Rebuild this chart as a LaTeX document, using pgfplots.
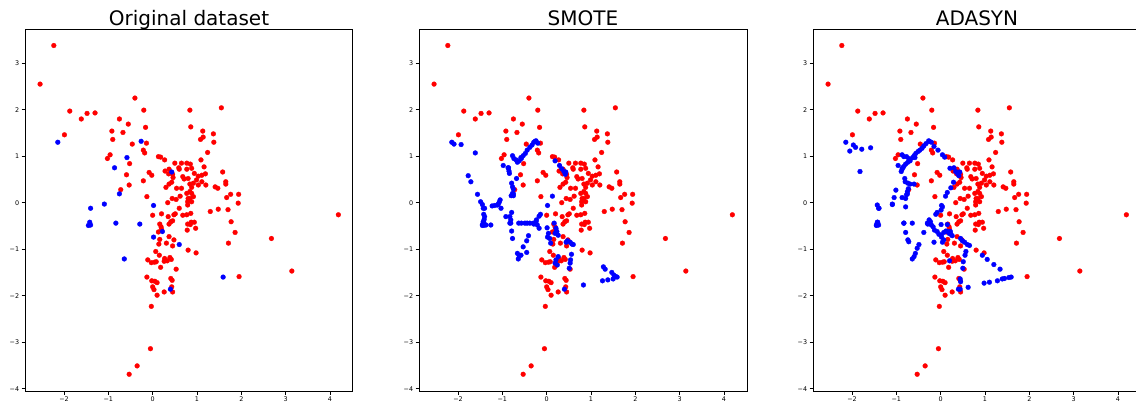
\documentclass[border=0pt]{standalone}
\usepackage{fontspec}
\setmainfont{DejaVu Sans}
\usepackage{pgfplots}
\pgfplotsset{compat=1.18}
\usepackage{pgfplotstable}

% majority class (same in all three panels)
\pgfplotstableread{
x y
-2.23 3.38
-2.54 2.55
-1.87 1.97
-1.61 1.80
-1.48 1.92
-1.30 1.93
-1.99 1.46
-0.40 2.25
-0.20 1.99
-0.75 1.80
-0.55 1.69
-0.92 1.54
-0.67 1.51
-0.16 1.62
-0.90 1.36
-0.46 1.26
-0.14 1.28
-0.21 1.13
-0.18 1.07
-0.96 1.03
-1.02 0.95
-0.52 0.84
0.13 0.99
0.18 0.98
0.27 0.92
-0.59 0.60
-0.08 0.65
-0.02 0.59
-0.21 0.47
-0.53 0.38
-0.72 0.28
-0.13 0.13
0.84 1.99
1.55 2.04
0.86 1.63
1.13 1.54
1.37 1.48
1.08 1.36
1.14 1.41
1.38 1.30
1.24 1.08
1.09 0.92
0.85 0.83
1.58 0.66
1.16 0.77
1.19 0.62
1.11 0.59
1.65 0.45
1.65 0.40
1.41 0.34
1.47 0.31
1.76 0.18
1.94 0.18
1.67 0.11
1.93 -0.01
1.48 -0.14
1.70 -0.15
1.30 -0.19
4.19 -0.26
2.68 -0.77
3.14 -1.47
1.95 -1.59
1.71 -0.87
1.86 -0.64
1.77 -0.41
0.80 -1.02
0.98 -1.08
0.78 -0.59
0.97 -0.55
0.94 -0.42
0.87 -0.42
0.85 -0.47
0.86 -0.23
0.77 -0.26
0.68 -0.27
0.79 -0.05
0.79 0.02
0.88 0.02
0.50 0.85
0.65 0.85
0.59 0.75
0.37 0.72
0.28 0.68
0.36 0.62
0.45 0.61
0.60 0.72
0.77 0.72
0.68 0.56
0.71 0.51
0.46 0.54
0.43 0.44
0.54 0.31
0.65 0.31
0.30 0.33
0.37 0.40
0.44 0.09
0.53 0.07
0.62 0.14
0.60 -0.12
0.77 0.20
0.80 0.09
0.51 -0.24
0.88 0.74
0.94 0.63
1.03 0.57
0.99 0.49
0.80 0.52
0.84 0.40
0.92 0.42
1.03 0.38
1.11 0.45
1.20 0.38
0.88 0.33
0.84 0.24
0.88 0.20
0.84 0.09
0.92 0.13
0.00 -0.27
0.20 -0.24
0.48 -0.26
0.79 -0.46
0.16 -0.46
0.19 -0.52
0.20 -0.57
0.13 -0.63
0.37 -0.46
0.41 -0.41
0.45 -0.39
0.35 -0.30
0.37 -0.73
0.48 -0.80
0.14 -0.89
0.31 -0.87
0.45 -0.93
0.07 -1.05
0.15 -1.13
-0.11 -1.23
-0.03 -1.29
0.04 -1.28
0.08 -1.27
0.27 -1.20
0.26 -1.26
0.33 -1.25
0.39 -1.18
0.42 -1.22
0.18 -1.39
0.53 -1.43
-0.13 -1.60
-0.02 -1.68
0.05 -1.69
0.10 -1.72
0.00 -1.81
0.03 -1.87
0.10 -1.99
0.26 -1.92
0.41 -1.63
0.44 -1.67
0.43 -1.81
0.45 -1.92
-0.03 -2.23
-0.05 -3.14
-0.35 -3.51
-0.53 -3.69
0.16 -0.79
0.34 0.00
0.77 0.85
}\redpts

% minority class, original
\pgfplotstableread{
x y
-2.14 1.30
-0.26 1.32
-0.58 0.97
-0.86 0.75
-0.75 0.19
0.43 0.66
-1.40 -0.12
-1.09 -0.03
0.02 -0.06
-1.42 -0.42
-1.45 -0.49
-1.40 -0.48
-0.83 -0.44
-0.29 -0.46
0.02 -0.74
0.22 -0.62
-0.64 -1.21
0.60 -0.90
0.40 -1.86
1.59 -1.60
}\bluepts

% minority class after SMOTE
\pgfplotstableread{
x y
-2.09 1.26
-1.93 1.25
-1.61 1.07
-1.77 0.58
-1.71 0.45
-1.56 0.18
-1.49 0.02
-1.45 -0.04
-1.43 -0.12
-1.42 -0.25
-1.40 -0.30
-1.41 -0.36
-1.43 -0.41
-1.45 -0.47
-1.42 -0.48
-1.37 -0.48
-1.26 -0.48
-1.23 -0.07
-1.17 -0.06
-1.11 -0.05
-1.07 0.01
-1.05 0.06
-1.03 -0.12
-0.98 0.80
-0.87 0.75
-0.85 0.68
-0.84 0.63
-0.77 1.01
-0.74 0.95
-0.69 0.92
-0.66 0.87
-0.62 0.90
-0.57 0.95
-0.53 1.01
-0.48 1.06
-0.44 1.13
-0.38 1.19
-0.33 1.24
-0.29 1.30
-0.24 1.33
-0.20 1.28
-0.79 0.42
-0.77 0.34
-0.75 0.29
-0.77 0.20
-0.80 0.15
-0.75 0.15
-0.68 0.52
-0.92 -0.30
-0.83 -0.30
-0.81 -0.37
-0.81 -0.44
-0.79 -0.21
-0.63 -0.44
-0.57 -0.44
-0.49 -0.44
-0.44 -0.44
-0.38 -0.44
-0.30 -0.44
-0.24 -0.41
-0.21 -0.48
-0.17 -0.55
-0.23 -0.37
-0.17 -0.29
-0.14 -0.25
-0.79 -0.61
-0.41 -0.71
-0.45 -0.82
-0.53 -0.95
-0.77 -0.77
-0.66 -1.09
-0.62 -1.14
-0.58 -1.13
-0.45 -1.07
0.13 0.14
0.01 -0.54
0.04 -0.66
0.07 -0.77
0.09 -0.87
0.17 -0.44
0.21 -0.55
0.23 -0.62
0.19 -0.66
0.26 -0.70
0.19 0.90
0.29 0.80
0.34 0.73
0.39 0.67
0.42 0.61
0.47 -0.82
0.53 -0.85
0.57 -0.89
0.44 -0.85
0.56 -1.11
0.54 -1.23
0.53 -1.30
0.51 -1.41
0.26 -1.16
0.21 -1.23
0.19 -1.30
0.24 -1.34
0.83 -1.77
1.28 -1.38
1.32 -1.43
1.47 -1.50
1.52 -1.56
1.56 -1.59
1.50 -1.64
1.38 -1.66
1.26 -1.68
}\smotepts

% minority class after ADASYN
\pgfplotstableread{
x y
-2.05 1.11
-1.97 1.24
-1.92 1.19
-1.78 1.15
-1.58 1.18
-1.82 0.67
-1.43 -0.05
-1.39 -0.12
-1.43 -0.42
-1.45 -0.48
-1.09 -0.04
-1.05 0.11
-1.01 0.27
-0.96 0.80
-0.87 1.03
-0.83 0.99
-0.77 0.99
-0.72 0.95
-0.69 0.90
-0.74 0.87
-0.79 0.83
-0.83 0.78
-0.87 0.72
-0.89 0.67
-0.63 0.97
-0.60 1.01
-0.56 1.06
-0.51 1.10
-0.47 1.13
-0.42 1.17
-0.38 1.22
-0.33 1.27
-0.27 1.33
-0.21 1.30
-0.15 1.21
-0.06 1.13
0.04 1.03
0.09 0.98
-0.81 0.52
-0.80 0.45
-0.74 0.42
-0.69 0.40
-0.87 0.11
-0.79 0.09
-0.77 0.17
-0.75 0.24
-0.73 0.30
-0.79 -0.09
-0.60 0.40
-0.83 -0.44
-0.64 -0.44
-0.38 -0.64
-0.79 -0.64
-0.74 -0.80
-0.72 -0.84
-0.49 -0.90
-0.53 -0.98
-0.57 -1.09
-0.60 -1.16
-0.15 -0.85
0.04 -0.09
0.01 -0.16
-0.08 -0.21
-0.11 -0.25
0.11 0.14
0.15 0.22
-0.30 -0.44
-0.26 -0.37
-0.23 -0.41
-0.21 -0.48
-0.17 -0.52
-0.14 -0.59
-0.08 -0.62
-0.04 -0.68
0.01 -0.70
0.07 -0.64
0.12 -0.61
0.15 -0.62
0.19 -0.66
0.23 -0.68
0.26 -0.71
0.07 -0.80
0.04 -0.85
0.21 0.74
0.30 0.75
0.34 0.67
0.38 0.63
0.41 0.58
0.29 0.44
0.23 0.32
0.01 -0.47
0.15 -0.47
0.45 -0.77
0.49 -0.82
0.54 -0.85
0.65 -0.92
0.57 -1.05
0.55 -1.13
0.51 -1.27
0.50 -1.41
0.20 -1.25
0.44 -1.64
0.45 -1.70
0.44 -1.86
0.62 -1.82
0.94 -1.13
1.05 -1.22
1.20 -1.33
1.34 -1.43
0.98 -1.73
1.10 -1.71
1.28 -1.68
1.39 -1.64
1.44 -1.63
1.54 -1.61
}\adasynpts

\pgfplotsset{
  panel/.style={
    scale only axis, width=164pt, height=181pt,
    anchor=south west,
    xmin=-2.88, xmax=4.52, ymin=-4.05, ymax=3.735,
    xtick={-2,...,4}, xticklabels={−2,−1,0,1,2,3,4},
    ytick={-4,...,3}, yticklabels={−4,−3,−2,−1,0,1,2,3},
    tick align=outside, tick pos=left,
    major tick length=1.75pt,
    tick style={black, line width=0.4pt},
    ticklabel style={font=\fontsize{3.2}{3.6}\selectfont},
    xticklabel style={inner sep=1pt},
    yticklabel style={inner sep=1pt},
    axis line style={line width=0.5pt},
    title style={at={(0.5,1)}, anchor=base, yshift=-4pt,
      font=\fontsize{10}{12}\selectfont},
    clip=false,
  },
  majority/.style={only marks, color=red, mark=*, mark size=1.2pt,
    mark options={solid, fill=red, draw=red, line width=0.15pt}},
  minority/.style={only marks, color=blue, mark=*, mark size=1.2pt,
    mark options={solid, fill=blue, draw=blue, line width=0.15pt}},
}

\begin{document}
\begin{tikzpicture}
\begin{axis}[panel, at={(12.5pt,6pt)}, title={Original dataset}]
  \addplot[majority] table {\redpts};
  \addplot[minority] table {\bluepts};
\end{axis}
\begin{axis}[panel, at={(209.5pt,6pt)}, title={SMOTE}]
  \addplot[majority] table {\redpts};
  \addplot[minority] table {\bluepts};
  \addplot[minority] table {\smotepts};
\end{axis}
\begin{axis}[panel, at={(406.5pt,6pt)}, title={ADASYN}]
  \addplot[majority] table {\redpts};
  \addplot[minority] table {\bluepts};
  \addplot[minority] table {\adasynpts};
\end{axis}
\pgfresetboundingbox
\path[use as bounding box] (0,0) rectangle (568pt,201.5pt);
\end{tikzpicture}
\end{document}
